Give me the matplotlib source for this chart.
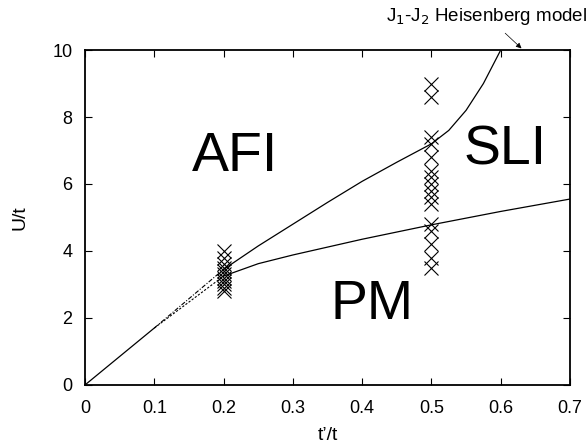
import numpy as np
import matplotlib
matplotlib.use("Agg")
import matplotlib.pyplot as plt

plt.rcParams['font.family'] = ['Liberation Sans', 'DejaVu Sans']

# simulation points (crosses)
t_a = 0.2
U_a = [2.8, 2.9, 3.0, 3.1, 3.2, 3.3, 3.4, 3.5, 3.6, 3.8, 4.0]
t_b = 0.5
U_b = [3.5, 3.8, 4.2, 4.6, 4.8, 5.4, 5.6, 5.8, 6.0, 6.2, 6.4, 6.8, 7.2, 7.4, 8.6, 9.0]

# phase boundaries
t_low = [0.0, 0.1]
U_low = [0.0, 1.7]
t_dd1 = [0.1, 0.2]
U_dd1 = [1.7, 3.45]
t_dd2 = [0.1, 0.2]
U_dd2 = [1.7, 3.25]
t_upper = [0.2, 0.25, 0.3, 0.35, 0.4, 0.45, 0.5, 0.525, 0.55, 0.575, 0.6]
U_upper = [3.45, 4.15, 4.8, 5.45, 6.08, 6.65, 7.2, 7.6, 8.2, 9.0, 10.0]
t_lower = [0.2, 0.25, 0.3, 0.4, 0.5, 0.6, 0.7]
U_lower = [3.25, 3.62, 3.88, 4.35, 4.78, 5.18, 5.55]

fig = plt.figure(figsize=(5.87, 4.47), dpi=100)
ax = fig.add_axes([0.145, 0.139, 0.826, 0.749])

ax.plot(t_low, U_low, color="black", lw=0.9)
ax.plot(t_dd1, U_dd1, color="black", lw=0.8, ls=(0, (4, 1.5, 1, 1.5)))
ax.plot(t_dd2, U_dd2, color="black", lw=0.8, ls=(0, (2, 1.5)))
ax.plot(t_upper, U_upper, color="black", lw=0.9)
ax.plot(t_lower, U_lower, color="black", lw=0.9)

ax.plot([t_a] * len(U_a), U_a, ls="none", marker="x", ms=10, mew=0.8, color="black")
ax.plot([t_b] * len(U_b), U_b, ls="none", marker="x", ms=10, mew=0.8, color="black")

ax.text(0.216, 6.8, "AFI", fontsize=40, ha="center", va="center")
ax.text(0.606, 7.0, "SLI", fontsize=40, ha="center", va="center")
ax.text(0.414, 2.4, "PM", fontsize=40, ha="center", va="center")

ax.annotate("J$_1$-J$_2$ Heisenberg model", xy=(0.63, 10.05), xytext=(0.58, 10.7),
            fontsize=13.5, ha="center", va="bottom", annotation_clip=False,
            arrowprops=dict(arrowstyle="-|>", color="black", lw=0.5,
                            mutation_scale=8, shrinkA=4, shrinkB=0))

ax.set_xlim(0, 0.7)
ax.set_ylim(0, 10)
ax.set_xticks(np.arange(0, 0.71, 0.1))
ax.set_xticklabels(["0", "0.1", "0.2", "0.3", "0.4", "0.5", "0.6", "0.7"])
ax.set_yticks([0, 2, 4, 6, 8, 10])
ax.tick_params(direction="in", top=True, right=True, length=5, width=0.8,
               labelsize=13)
ax.tick_params(axis="x", pad=11)
ax.tick_params(axis="y", pad=9)
for s in ax.spines.values():
    s.set_linewidth(1.3)
ax.set_xlabel("t\u2019/t", fontsize=14, labelpad=7)
ax.set_ylabel("U/t", fontsize=14, labelpad=17)

fig.savefig("out.png", dpi=100)
